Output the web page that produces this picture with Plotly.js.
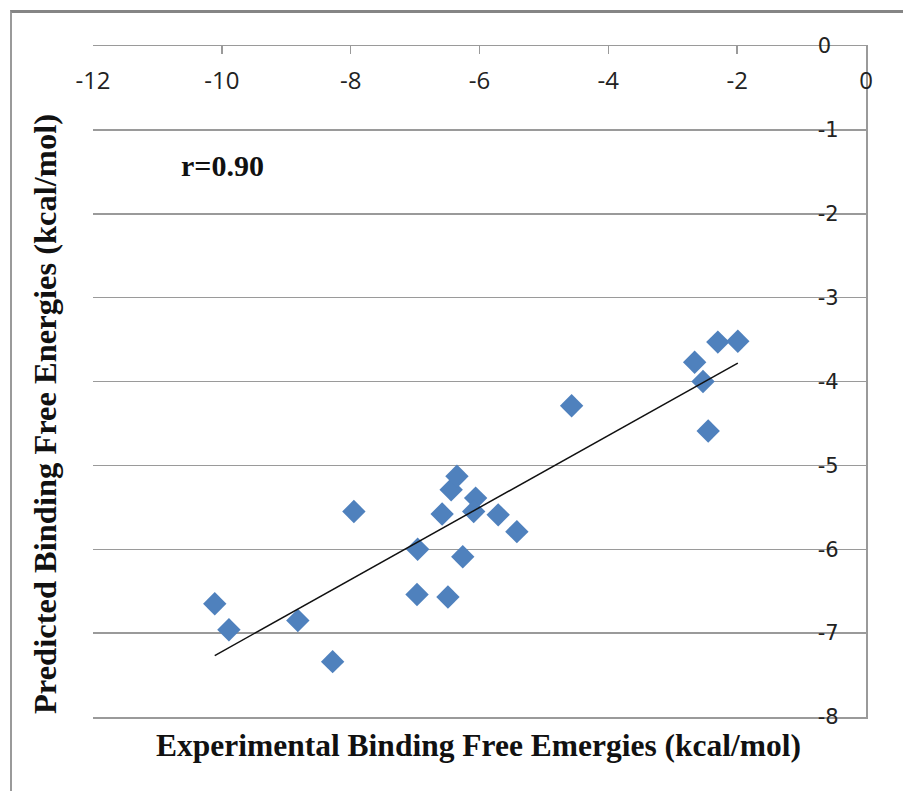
<!DOCTYPE html>
<html>
<head>
<meta charset="utf-8">
<script src="https://cdn.plot.ly/plotly-3.0.1.min.js"></script>
<style>
  html, body { margin: 0; padding: 0; background: #fff; }
  #wrap { position: relative; width: 903px; height: 791px; }
  #chart { position: absolute; left: 0; top: 0; width: 903px; height: 791px; }
  #frame { position: absolute; left: 10px; top: 10px; width: 900px; height: 800px;
           border-left: 2px solid #9a9a9a; border-top: 3px solid #858585; pointer-events: none; }
</style>
</head>
<body>
<div id="wrap">
  <div id="chart"></div>
  <div id="frame"></div>
</div>
<script>
// Experimental vs predicted binding free energies (kcal/mol)
const experimental = [-10.11, -9.89, -8.82, -8.28, -7.95, -6.96, -6.97, -6.49, -6.58, -6.44, -6.35,
                      -6.26, -6.06, -6.09, -5.71, -5.42, -4.57, -2.66, -2.53, -2.45, -2.30, -1.99];
const predicted    = [-6.65, -6.96, -6.85, -7.34, -5.55, -6.00, -6.54, -6.57, -5.58, -5.29, -5.13,
                      -6.09, -5.39, -5.55, -5.59, -5.79, -4.29, -3.77, -4.00, -4.59, -3.53, -3.52];
const xTicks = [-12, -10, -8, -6, -4, -2, 0];
const yTicks = [0, -1, -2, -3, -4, -5, -6, -7, -8];
const rLabel = "r=0.90";
const xTitle = "Experimental Binding Free Emergies (kcal/mol)";
const yTitle = "Predicted Binding Free Energies (kcal/mol)";

// Least-squares trendline over the data range
const n = experimental.length;
const mx = experimental.reduce((a, b) => a + b, 0) / n;
const my = predicted.reduce((a, b) => a + b, 0) / n;
let sxy = 0, sxx = 0;
for (let i = 0; i < n; i++) {
  sxy += (experimental[i] - mx) * (predicted[i] - my);
  sxx += (experimental[i] - mx) ** 2;
}
const slope = sxy / sxx;
const intercept = my - slope * mx;
const xMin = Math.min(...experimental), xMax = Math.max(...experimental);
const trendX = [xMin, xMax];
const trendY = trendX.map(v => slope * v + intercept);

const traces = [
  {
    x: experimental, y: predicted, type: 'scatter', mode: 'markers',
    marker: { symbol: 'diamond', size: 18, color: '#4f81bd', line: { width: 0 } },
    hoverinfo: 'x+y', showlegend: false
  },
  {
    x: trendX, y: trendY, type: 'scatter', mode: 'lines',
    line: { color: '#111', width: 1.5 }, hoverinfo: 'skip', showlegend: false
  }
];

// plot area in pixels: left 93, right 866, top 46, bottom 717
const PL = 93, PR = 866, PT = 46, PB = 717;
const px = v => (v - PL) / (PR - PL);
const py = v => (PB - v) / (PB - PT);
const serif = 'Liberation Serif, Times New Roman, serif';

const layout = {
  width: 903, height: 791,
  margin: { l: PL, r: 903 - PR, t: PT, b: 791 - PB },
  paper_bgcolor: '#fff', plot_bgcolor: '#fff',
  showlegend: false,
  xaxis: {
    range: [-12, 0], side: 'top', tickvals: xTicks, ticktext: xTicks.map(String),
    showgrid: false, zeroline: false,
    showline: true, mirror: true, linecolor: '#9a9a9a', linewidth: 1.5,
    ticks: 'inside', ticklen: 8, tickcolor: '#9a9a9a', tickwidth: 1.5,
    ticklabelposition: 'outside', ticklabelstandoff: -54,
    tickfont: { family: 'Liberation Sans Narrow, Open Sans, sans-serif', size: 24, color: '#222' },
    fixedrange: true
  },
  yaxis: {
    range: [-8, 0], side: 'right', tickvals: yTicks, ticktext: yTicks.map(String),
    showgrid: true, gridcolor: '#9a9a9a', gridwidth: 1.5, zeroline: false,
    showline: true, linecolor: '#9a9a9a', linewidth: 1.5,
    ticks: '', ticklabelposition: 'outside', ticklabelstandoff: -54,
    tickfont: { family: 'DejaVu Sans, sans-serif', size: 21, color: '#222' },
    fixedrange: true
  },
  annotations: [
    { xref: 'paper', yref: 'paper', x: px(478), y: py(745), xanchor: 'center', yanchor: 'middle',
      text: '<b>' + xTitle + '</b>', showarrow: false,
      font: { family: serif, size: 31.5, color: '#111' } },
    { xref: 'paper', yref: 'paper', x: px(45), y: py(414), xanchor: 'center', yanchor: 'middle',
      text: '<b>' + yTitle + '</b>', textangle: -90, showarrow: false,
      font: { family: serif, size: 32.5, color: '#111' } },
    { xref: 'paper', yref: 'paper', x: px(222), y: py(165), xanchor: 'center', yanchor: 'middle',
      text: '<b>' + rLabel + '</b>', showarrow: false,
      font: { family: serif, size: 30, color: '#111' } }
  ]
};

Plotly.newPlot('chart', traces, layout, { displayModeBar: false, staticPlot: true });
</script>
</body>
</html>
